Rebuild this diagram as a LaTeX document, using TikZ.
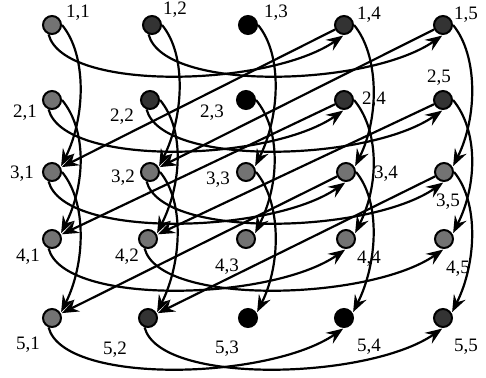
\documentclass[tikz,border=0pt]{standalone}
\usepackage{fontspec}
\setmainfont{Liberation Serif}
\usetikzlibrary{arrows.meta}
\begin{document}
\begin{tikzpicture}[x=1pt,y=-1pt,
  pe/.style={circle,draw=black,line width=2pt,minimum size=18pt,inner sep=0pt},
  lt/.style={pe,fill=black!55},
  dk/.style={pe,fill=black!80},
  sb/.style={pe,fill=black},
  lbl/.style={font=\fontsize{19}{21}\selectfont,inner sep=0pt},
  arr/.style={line width=2.2pt,-{Stealth[length=17pt,width=13pt,inset=6pt]},shorten >=1pt},
]
\useasboundingbox (0,0) rectangle (486,377);
% nodes
\node[lt] (n11) at (52,25) {};
\node[dk] (n12) at (152,25) {};
\node[sb] (n13) at (248,25) {};
\node[dk] (n14) at (344,25) {};
\node[dk] (n15) at (443,25) {};
\node[lt] (n21) at (52,100) {};
\node[dk] (n22) at (150,100) {};
\node[sb] (n23) at (246,100) {};
\node[dk] (n24) at (344,100) {};
\node[dk] (n25) at (443,100) {};
\node[lt] (n31) at (52,172) {};
\node[lt] (n32) at (150,172) {};
\node[lt] (n33) at (246,172) {};
\node[lt] (n34) at (346,172) {};
\node[lt] (n35) at (444,172) {};
\node[lt] (n41) at (52,239) {};
\node[lt] (n42) at (148,239) {};
\node[lt] (n43) at (246,239) {};
\node[lt] (n44) at (346,239) {};
\node[lt] (n45) at (444,239) {};
\node[lt] (n51) at (52,318) {};
\node[dk] (n52) at (148,318) {};
\node[sb] (n53) at (248,318) {};
\node[sb] (n54) at (344,318) {};
\node[dk] (n55) at (443,318) {};
% labels
\node[lbl] (l11) at (78,13) {1,1};
\node[lbl] (l12) at (175,10) {1,2};
\node[lbl] (l13) at (276,13) {1,3};
\node[lbl] (l14) at (369,15) {1,4};
\node[lbl] (l15) at (466,15) {1,5};
\node[lbl] (l21) at (25,113) {2,1};
\node[lbl] (l22) at (122,117) {2,2};
\node[lbl] (l23) at (212,113) {2,3};
\node[lbl] (l24) at (374,100) {2,4};
\node[lbl] (l25) at (439,78) {2,5};
\node[lbl] (l31) at (22,174) {3,1};
\node[lbl] (l32) at (123,178) {3,2};
\node[lbl] (l33) at (218,180) {3,3};
\node[lbl] (l34) at (386,174) {3,4};
\node[lbl] (l35) at (448,202) {3,5};
\node[lbl] (l41) at (28,257) {4,1};
\node[lbl] (l42) at (127,257) {4,2};
\node[lbl] (l43) at (227,267) {4,3};
\node[lbl] (l44) at (369,259) {4,4};
\node[lbl] (l45) at (458,269) {4,5};
\node[lbl] (l51) at (28,345) {5,1};
\node[lbl] (l52) at (115,350) {5,2};
\node[lbl] (l53) at (227,349) {5,3};
\node[lbl] (l54) at (369,347) {5,4};
\node[lbl] (l55) at (466,347) {5,5};
% vertical connectors (down two rows)
\foreach \c in {1,...,5}{
  \foreach \r/\t in {1/3,2/4,3/5}{
    \draw[arr] (n\r\c.east) .. controls +(25,30) and +(25,-50) .. (n\t\c.30);
  }
}
% horizontal connectors (right three columns)
\foreach \r in {1,...,5}{
  \foreach \s/\t in {1/4,2/5}{
    \draw[arr] (n\r\s.250) .. controls +(15,58) and +(-75,52) .. (n\r\t.south);
  }
}
% diagonal connectors
\foreach \r/\t in {1/3,2/4,3/5}{
  \foreach \s/\d in {4/1,5/2}{
    \draw[arr] (n\r\s) -- (n\t\d);
  }
}
\end{tikzpicture}
\end{document}
